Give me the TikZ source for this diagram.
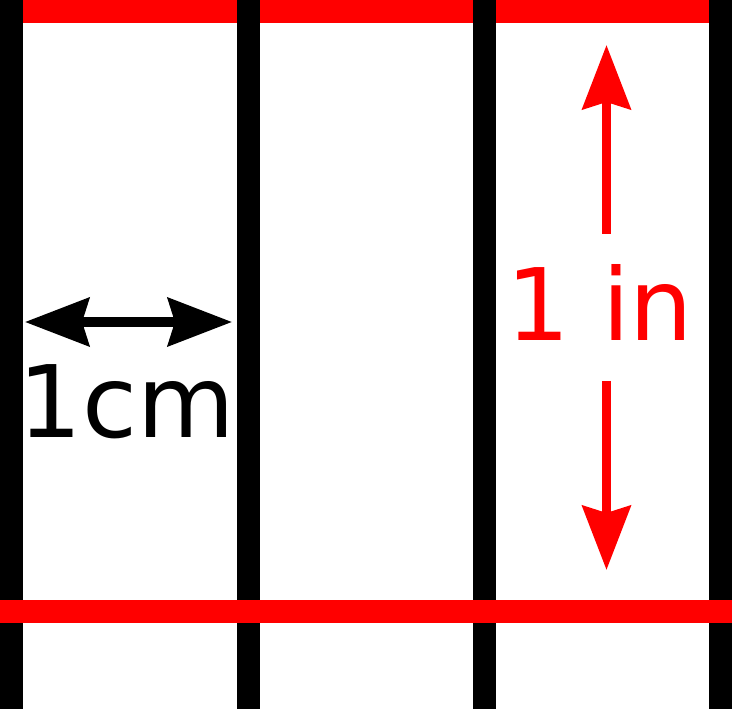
\documentclass[tikz,border=0pt]{standalone}
\usepackage{fontspec}
\setmainfont{DejaVu Sans}
\usetikzlibrary{arrows.meta}
\begin{document}
\begin{tikzpicture}[x=0.01cm,y=-0.01cm,
  rule/.style={line width=0.23cm},
  redrule/.style={rule,draw={rgb,255:red,255;green,0;blue,0}},
  blackrule/.style={rule,draw=black},
  dimarrow/.style={line width=0.09cm,-{Stealth[length=0.64cm,width=0.48cm,inset=0.07cm]}},
  lbl/.style={inner sep=0pt,anchor=base west,font=\fontsize{28.45pt}{34pt}\selectfont}]
\useasboundingbox (0,0) rectangle (732,709);
\definecolor{pure red}{RGB}{255,0,0}
% top red bar (below the black rules)
\coordinate (tl) at (0,11.5);
\coordinate (tr) at (732,11.5);
\draw[redrule] (tl) -- (tr);
% black rules
\foreach \i/\x in {1/11.5,2/248.5,3/484.5,4/720.5}{
  \coordinate (t\i) at (\x,0);
  \coordinate (b\i) at (\x,709);
  \draw[blackrule] (t\i) -- (b\i);
}
% bottom red bar (above the black rules)
\coordinate (bl) at (0,611.5);
\coordinate (br) at (732,611.5);
\draw[redrule] (bl) -- (br);
% 1 cm arrow
\coordinate (cmmid) at (128,322);
\coordinate (cmleft) at (25,322);
\coordinate (cmright) at (232,322);
\draw[dimarrow,draw=black] (cmmid) -- (cmleft);
\draw[dimarrow,draw=black] (cmmid) -- (cmright);
\node[lbl,text=black] (cm) at (18,438) {1cm};
% 1 in arrows
\coordinate (upstart) at (606.5,234);
\coordinate (uptip) at (606.5,45);
\coordinate (downstart) at (606.5,381);
\coordinate (downtip) at (606.5,570);
\draw[dimarrow,draw=pure red] (upstart) -- (uptip);
\draw[dimarrow,draw=pure red] (downstart) -- (downtip);
\node[lbl,text=pure red] (in) at (506,341) {1 in};
\end{tikzpicture}
\end{document}
